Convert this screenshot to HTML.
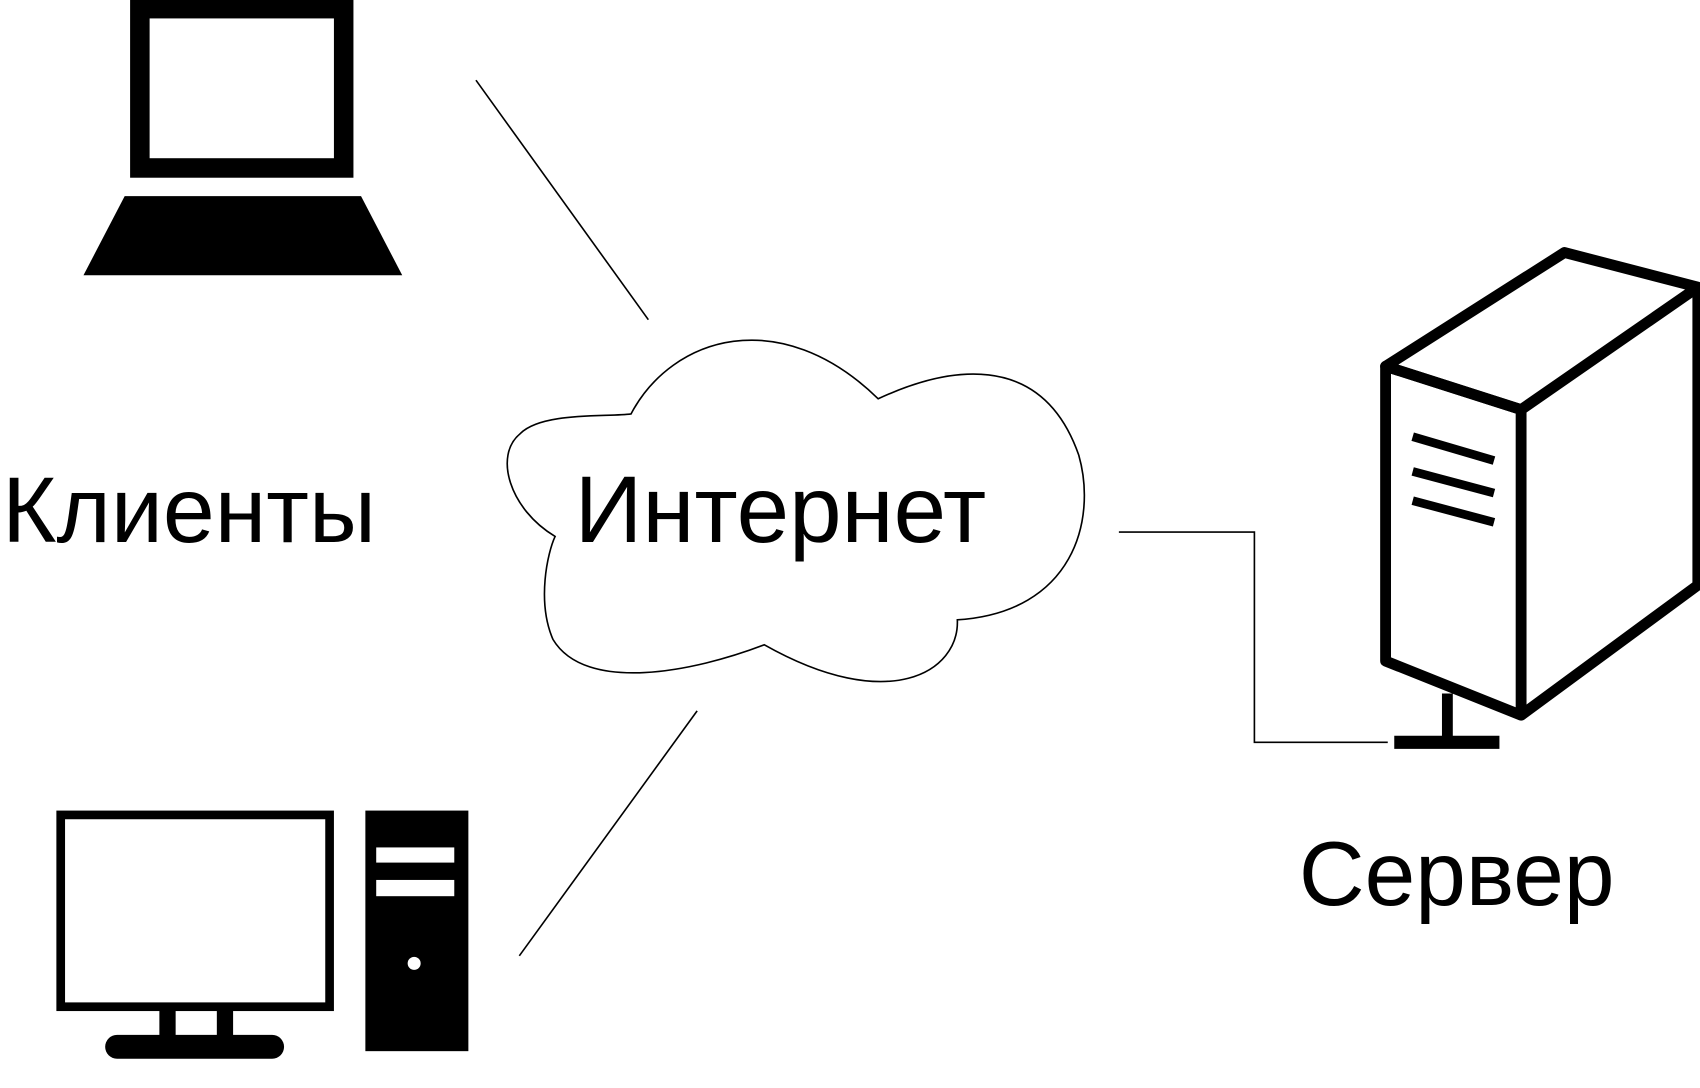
<!DOCTYPE html>
<html><head><style>html,body{margin:0;padding:0;background:#fff;width:1700px;height:1088px;overflow:hidden}</style></head>
<body>
<svg width="1700" height="1088" viewBox="0 0 1568 1004" preserveAspectRatio="none" xmlns="http://www.w3.org/2000/svg">
<rect x="129" y="8" width="188" height="147" fill="none" stroke="#000" stroke-width="18"/>
<polygon points="115,181 333,181 371,254 77,254" fill="#000"/>
<line x1="439" y1="74" x2="598" y2="295" stroke="#000" stroke-width="1.5"/>
<line x1="643" y1="656" x2="479" y2="882" stroke="#000" stroke-width="1.5"/>
<path d="M582,382 C620,310 720,280 810,368 C870,340 960,320 995,420 C1012,480 990,565 883,572 C885,620 820,660 705,595 C640,620 540,640 510,590 C495,555 505,510 512,495 C470,470 455,420 480,400 C500,380 560,385 582,382 Z" fill="none" stroke="#000" stroke-width="1.5"/>
<text x="530" y="500" font-family="Liberation Sans, DejaVu Sans, sans-serif" font-size="87">Интернет</text>
<text x="2" y="500" font-family="Liberation Sans, DejaVu Sans, sans-serif" font-size="86">Клиенты</text>
<text x="1198" y="835" font-family="Liberation Sans, DejaVu Sans, sans-serif" font-size="84">Сервер</text>
<polyline points="1032,491 1157,491 1157,685 1280,685" fill="none" stroke="#000" stroke-width="1.5"/>
<g fill="none" stroke="#000" stroke-width="10" stroke-linejoin="round">
<polygon points="1278,338 1403,378 1403,660 1278,610"/>
<polygon points="1278,338 1443,233 1566,265 1403,378"/>
<polyline points="1566,265 1566,540 1403,660"/>
</g>
<line x1="1335" y1="640" x2="1335" y2="683" stroke="#000" stroke-width="10"/>
<line x1="1286" y1="685" x2="1383" y2="685" stroke="#000" stroke-width="12"/>
<g stroke="#000" stroke-width="8">
<line x1="1303" y1="403" x2="1378" y2="425"/>
<line x1="1303" y1="435" x2="1378" y2="455"/>
<line x1="1303" y1="462" x2="1378" y2="482"/>
</g>
<rect x="56" y="752" width="248" height="177" fill="none" stroke="#000" stroke-width="8"/>
<rect x="147" y="932" width="15" height="28" fill="#000"/>
<rect x="200" y="932" width="15" height="28" fill="#000"/>
<rect x="97" y="955" width="165" height="22" rx="11" fill="#000"/>
<rect x="337" y="748" width="95" height="222" fill="#000"/>
<rect x="347" y="782" width="72" height="14" fill="#fff"/>
<rect x="347" y="812" width="72" height="15" fill="#fff"/>
<circle cx="382" cy="889" r="6" fill="#fff"/>
</svg>
</body></html>
